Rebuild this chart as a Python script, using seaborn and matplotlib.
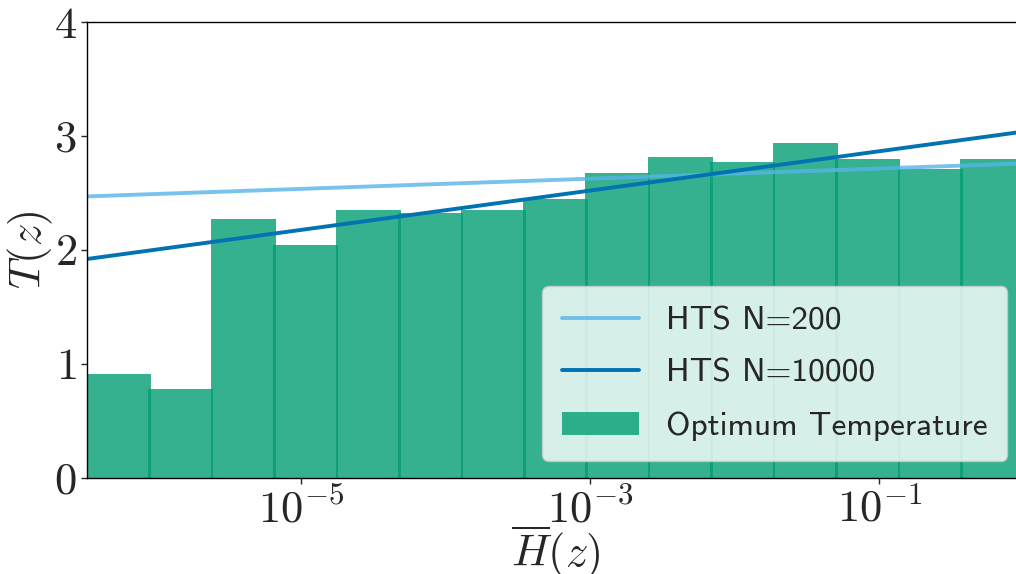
import numpy as np
import seaborn as sns
import matplotlib.pyplot as plt

# optimum temperature per bin of H(z), bins equally spaced in log10
log_h_min = -6.48
log_h_max = 0.0
t_opt = [0.91, 0.78, 2.27, 2.04, 2.35, 2.32, 2.35, 2.45, 2.68,
         2.82, 2.77, 2.94, 2.80, 2.71, 2.80]

# fitted HTS lines (straight in log H)
h_line = [10 ** -6.48, 1.0]
t_hts200 = [2.47, 2.76]
t_hts10000 = [1.92, 3.04]

sns.set_style("white")
plt.rcParams['font.family'] = ['cmr10', 'DejaVu Sans']
plt.rcParams['mathtext.fontset'] = 'cm'
plt.rcParams['axes.formatter.use_mathtext'] = True
plt.rcParams['axes.unicode_minus'] = False

pal = sns.color_palette("colorblind")

fig = plt.figure(figsize=(10.16, 5.74), dpi=100)
ax = fig.add_axes([87 / 1016, 1 - 477.5 / 574, (1024 - 87) / 1016, (477.5 - 22.3) / 574])

edges = np.logspace(log_h_min, log_h_max, len(t_opt) + 1)
step = (log_h_max - log_h_min) / len(t_opt)
right = edges[1:] * 10 ** (0.02 * step)
left = edges[:-1] / 10 ** (0.02 * step)
ax.bar(left, t_opt, width=right - left, align='edge', color=pal[2], alpha=0.8,
       linewidth=0, label='Optimum Temperature')

sns.lineplot(x=h_line, y=t_hts200, ax=ax, color=pal[9], alpha=0.8, lw=2.8,
             label='HTS N=200')
sns.lineplot(x=h_line, y=t_hts10000, ax=ax, color=pal[0], lw=2.8,
             label='HTS N=10000')

ax.set_xscale('log')
ax.set_xlim(10 ** log_h_min, 10 ** log_h_max)
ax.set_ylim(0, 4)
ax.set_xticks([1e-5, 1e-3, 1e-1])
ax.xaxis.set_minor_locator(plt.NullLocator())
ax.set_yticks([0, 1, 2, 3, 4])
ax.tick_params(axis='both', labelsize=32, length=4, width=1, direction='out',
               bottom=True, left=True)
ax.set_xlabel(r'$\overline{H}(z)$', fontsize=32, labelpad=-5)
ax.set_ylabel(r'$T(z)$', fontsize=32, labelpad=-1)
for s in ax.spines.values():
    s.set_color('black')
    s.set_linewidth(1)

h, l = ax.get_legend_handles_labels()
order = [l.index('HTS N=200'), l.index('HTS N=10000'), l.index('Optimum Temperature')]
ax.legend([h[i] for i in order], [l[i] for i in order], loc='lower right',
          prop={'family': 'cmss10', 'size': 24}, handlelength=2.3, framealpha=0.8,
          labelspacing=0.7, borderpad=0.6)

fig.savefig('out.png', dpi=100)
